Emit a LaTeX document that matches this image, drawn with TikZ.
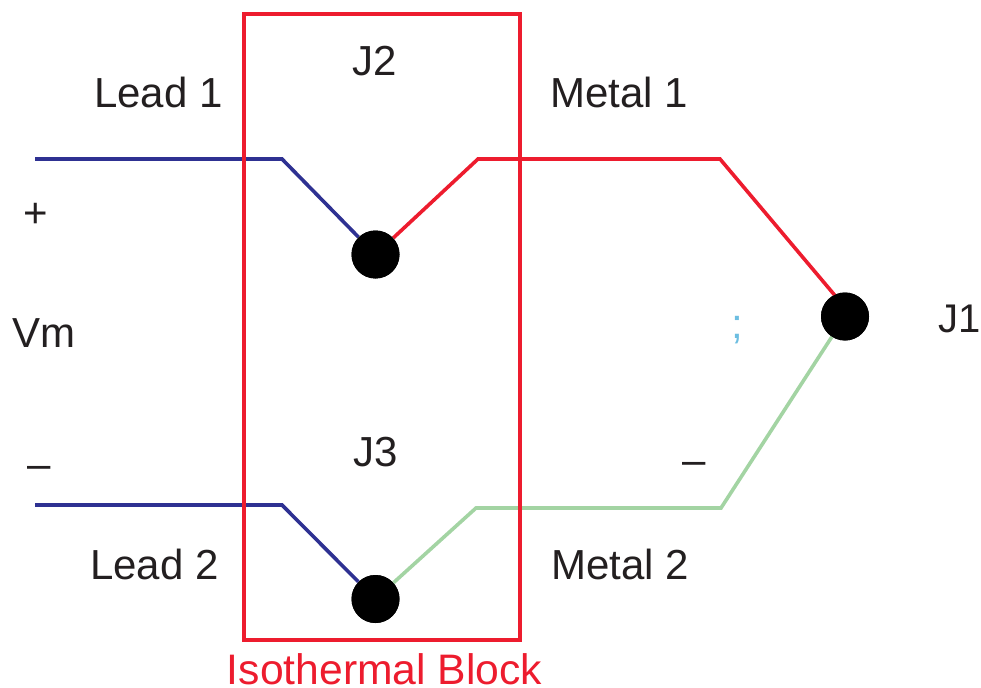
\documentclass[tikz,border=0pt]{standalone}
\usepackage{fontspec}
\setmainfont{Liberation Sans}
\definecolor{cred}{RGB}{237,28,46}
\definecolor{cblue}{RGB}{46,49,146}
\definecolor{cgreen}{RGB}{163,212,163}
\definecolor{ctext}{RGB}{35,31,32}
\definecolor{csemi}{RGB}{109,190,225}
\tikzset{
 px/.style={x=0.75pt,y=-0.75pt},
 wire/.style={line width=2.7pt,line join=miter},
 junction/.style={circle,fill=black,inner sep=0pt,minimum size=36pt},
 lbl/.style={text=ctext,font=\fontsize{31.5pt}{34pt}\selectfont,inner sep=0pt,anchor=base},
}
\begin{document}
\begin{tikzpicture}[px]
\useasboundingbox (0,0) rectangle (981,688);
\node[junction] (j2) at (375.5,254.5) {};
\node[junction] (j3) at (375.5,599) {};
\node[junction] (j1) at (845,316.5) {};
\coordinate (lead1) at (35,159);
\coordinate (lead2) at (35,505);
\coordinate (redend) at (848,311);
\draw[wire,cblue] (lead1) -- (282,159) -- (j2);
\draw[wire,cblue] (lead2) -- (282,505) -- (j3);
\draw[wire,cred] (j2) -- (478,159) -- (720,159) -- (redend);
\draw[wire,cgreen] (j3) -- (476,508) -- (721,508) -- (j1);
\node[junction] at (j2) {};
\node[junction] at (j3) {};
\node[junction] at (j1) {};
\draw[line width=3pt,cred] (244,14) rectangle (520,640);
\node[lbl] at (158.5,108) {Lead 1};
\node[lbl] at (375,76) {J2};
\node[lbl] at (619,108) {Metal 1};
\node[lbl] at (36,227) {+};
\node[lbl] at (44,347) {Vm};
\node[lbl] at (375.5,466) {J3};
\node[lbl,font=\fontsize{30pt}{32pt}\selectfont] at (960,332) {J1};
\node[lbl] at (39,478) {–};
\node[lbl] at (694,474) {–};
\node[lbl] at (154.5,579) {Lead 2};
\node[lbl] at (620,579) {Metal 2};
\node[lbl,text=csemi] at (737,338) {;};
\node[lbl,text=cred,font=\fontsize{32pt}{34pt}\selectfont] at (384.5,684) {Isothermal Block};
\end{tikzpicture}
\end{document}
